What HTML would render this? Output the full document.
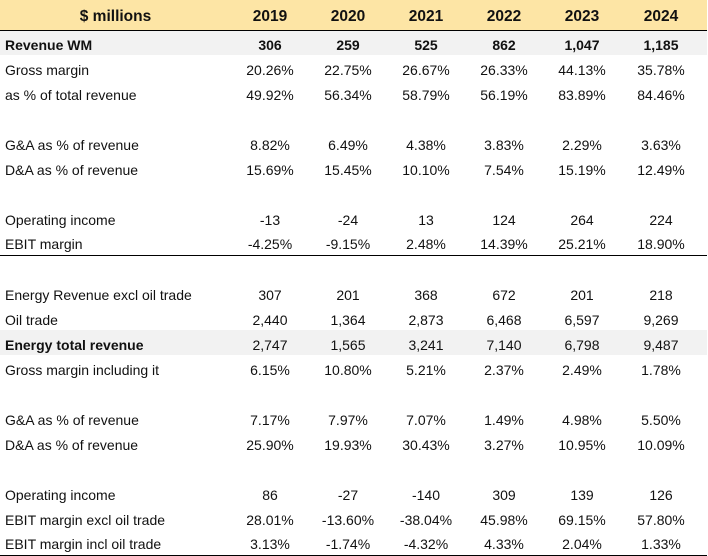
<!DOCTYPE html>
<html><head><meta charset="utf-8"><style>
body{margin:0;width:708px;height:555px;background:#fff;font-family:"Liberation Sans",sans-serif;color:#111;overflow:hidden}
table{border-collapse:collapse;table-layout:fixed;width:707px;position:absolute;left:0;top:0}
td{height:25px;padding:0;font-size:14px;text-align:center;white-space:nowrap;vertical-align:middle;padding-top:4px;box-sizing:border-box}
td:first-child{text-align:left;padding-left:5px}
tr.h td{height:30px;background:#fde5a5;font-weight:bold;font-size:15.5px;border-bottom:1.5px solid #000}
tr.h td:first-child{text-align:center;padding-left:0}
tr.g td{background:#f2f2f2}
tr.b td{font-weight:bold}
tr.line td{border-bottom:1.5px solid #000}
</style></head><body>
<table>
<colgroup><col style="width:231px"><col style="width:78px"><col style="width:78px"><col style="width:78px"><col style="width:78px"><col style="width:78px"><col style="width:86px"></colgroup>
<tr class="h"><td>$ millions</td><td>2019</td><td>2020</td><td>2021</td><td>2022</td><td>2023</td><td style="padding-right:6px">2024</td></tr>
<tr class="g b"><td>Revenue WM</td><td>306</td><td>259</td><td>525</td><td>862</td><td>1,047</td><td style="padding-right:6px">1,185</td></tr>
<tr><td>Gross margin</td><td>20.26%</td><td>22.75%</td><td>26.67%</td><td>26.33%</td><td>44.13%</td><td style="padding-right:6px">35.78%</td></tr>
<tr><td>as % of total revenue</td><td>49.92%</td><td>56.34%</td><td>58.79%</td><td>56.19%</td><td>83.89%</td><td style="padding-right:6px">84.46%</td></tr>
<tr><td></td><td></td><td></td><td></td><td></td><td></td><td></td></tr>
<tr><td>G&amp;A as % of revenue</td><td>8.82%</td><td>6.49%</td><td>4.38%</td><td>3.83%</td><td>2.29%</td><td style="padding-right:6px">3.63%</td></tr>
<tr><td>D&amp;A as % of revenue</td><td>15.69%</td><td>15.45%</td><td>10.10%</td><td>7.54%</td><td>15.19%</td><td style="padding-right:6px">12.49%</td></tr>
<tr><td></td><td></td><td></td><td></td><td></td><td></td><td></td></tr>
<tr><td>Operating income</td><td>-13</td><td>-24</td><td>13</td><td>124</td><td>264</td><td style="padding-right:6px">224</td></tr>
<tr class="line"><td>EBIT margin</td><td>-4.25%</td><td>-9.15%</td><td>2.48%</td><td>14.39%</td><td>25.21%</td><td style="padding-right:6px">18.90%</td></tr>
<tr><td></td><td></td><td></td><td></td><td></td><td></td><td></td></tr>
<tr><td>Energy Revenue excl oil trade</td><td>307</td><td>201</td><td>368</td><td>672</td><td>201</td><td style="padding-right:6px">218</td></tr>
<tr><td>Oil trade</td><td>2,440</td><td>1,364</td><td>2,873</td><td>6,468</td><td>6,597</td><td style="padding-right:6px">9,269</td></tr>
<tr class="g"><td style="font-weight:bold">Energy total revenue</td><td>2,747</td><td>1,565</td><td>3,241</td><td>7,140</td><td>6,798</td><td style="padding-right:6px">9,487</td></tr>
<tr><td>Gross margin including it</td><td>6.15%</td><td>10.80%</td><td>5.21%</td><td>2.37%</td><td>2.49%</td><td style="padding-right:6px">1.78%</td></tr>
<tr><td></td><td></td><td></td><td></td><td></td><td></td><td></td></tr>
<tr><td>G&amp;A as % of revenue</td><td>7.17%</td><td>7.97%</td><td>7.07%</td><td>1.49%</td><td>4.98%</td><td style="padding-right:6px">5.50%</td></tr>
<tr><td>D&amp;A as % of revenue</td><td>25.90%</td><td>19.93%</td><td>30.43%</td><td>3.27%</td><td>10.95%</td><td style="padding-right:6px">10.09%</td></tr>
<tr><td></td><td></td><td></td><td></td><td></td><td></td><td></td></tr>
<tr><td>Operating income</td><td>86</td><td>-27</td><td>-140</td><td>309</td><td>139</td><td style="padding-right:6px">126</td></tr>
<tr><td>EBIT margin excl oil trade</td><td>28.01%</td><td>-13.60%</td><td>-38.04%</td><td>45.98%</td><td>69.15%</td><td style="padding-right:6px">57.80%</td></tr>
<tr class="line"><td>EBIT margin incl oil trade</td><td>3.13%</td><td>-1.74%</td><td>-4.32%</td><td>4.33%</td><td>2.04%</td><td style="padding-right:6px">1.33%</td></tr>
</table>
</body></html>
